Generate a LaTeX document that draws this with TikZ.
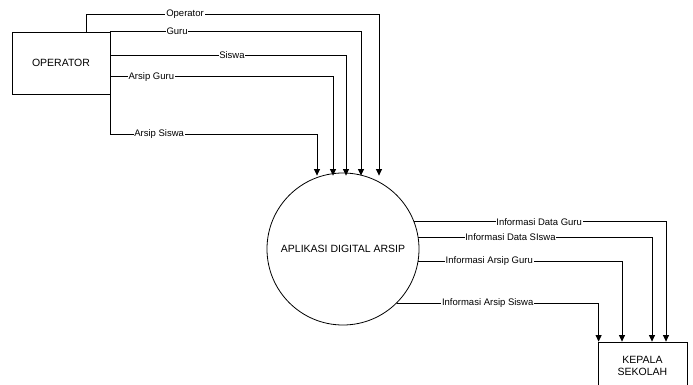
\documentclass[tikz,border=0pt]{standalone}
\usepackage{fontspec}
\setmainfont{Liberation Sans}
\usetikzlibrary{arrows.meta,calc}
\begin{document}
\begin{tikzpicture}[x=1pt,y=-1pt,
  flow/.style={draw=black,line width=0.8pt,-{Triangle[length=6.5pt,width=6pt]}},
  lab/.style={fill=white,inner sep=0.8pt,font=\fontsize{9.5}{11}\selectfont},
  entity/.style={draw=black,line width=0.8pt,inner sep=0pt,align=center,font=\fontsize{10.5}{12}\selectfont},
  proc/.style={draw=black,line width=0.8pt,circle,minimum size=152pt,inner sep=0pt,font=\fontsize{10.5}{12}\selectfont}]
\useasboundingbox (0,0) rectangle (693,385);
\clip (0,0) rectangle (693,385);
\fill[white] (0,0) rectangle (693,385);

\node[entity,minimum width=98pt,minimum height=62pt] (op) at (61,63) {OPERATOR};
\node[proc] (c) at (343,249) {APLIKASI DIGITAL ARSIP};
\node[entity,minimum width=89pt,minimum height=48pt] (k) at (642.5,366) {KEPALA\\SEKOLAH};

% inputs to process
\draw[flow] ($(op.north)+(25,0)$) -- ++(0,-17) -| ($(c.north)+(36,3)$)
  node[lab,pos=0.169] (l1) {Operator};
\draw[flow] (op.north east) -| ($(c.north)+(18,3)$)
  node[lab,pos=0.133] (l2) {Guru};
\draw[flow] ($(op.north east)+(0,24)$) -| ($(c.north)+(3,3)$)
  node[lab,pos=0.258] (l3) {Siswa};
\draw[flow] ($(op.north east)+(0,45)$) -| ($(c.north)+(-10,3)$)
  node[lab,pos=0.092] (l4) {Arsip Guru};
\draw[flow] (op.south east) -- ++(0,40) -| ($(c.north)+(-26,3)$)
  node[lab,pos=0.118] (l5) {Arsip Siswa};

% outputs to kepala sekolah
\draw[flow] (c.21.6) -| ($(k.north)+(23.5,0)$)
  node[lab,pos=0.248] (o1) {Informasi Data Guru};
\draw[flow] (c.9.1) -| ($(k.north)+(9.5,0)$)
  node[lab,pos=0.197] (o2) {Informasi Data SIswa};
\draw[flow] (c.-9.8) -| ($(k.north)+(-20.5,0)$)
  node[lab,pos=0.174] (o3) {Informasi Arsip Guru};
\draw[flow] (c.-45.3) -| ($(k.north west)+(1,0)$)
  node[lab,pos=0.225] (o4) {Informasi Arsip Siswa};
\end{tikzpicture}
\end{document}
